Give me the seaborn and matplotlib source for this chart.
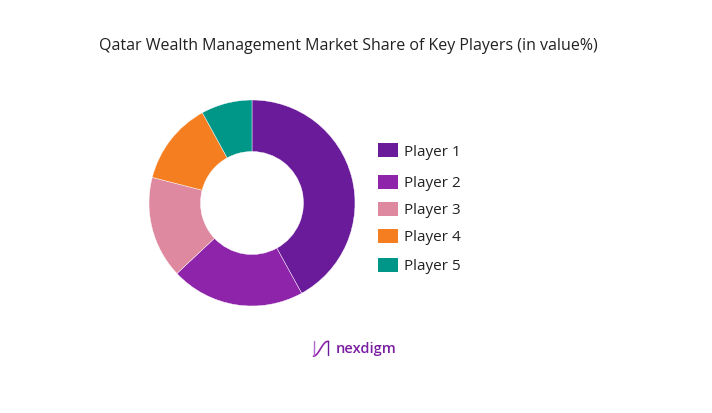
import numpy as np
import matplotlib.pyplot as plt
import seaborn as sns
from matplotlib.patches import Rectangle

# Data
players = ['Player 1', 'Player 2', 'Player 3', 'Player 4', 'Player 5']
shares = [42, 21, 16, 13, 8]
colors = ['#6A1B9A', '#8E24AA', '#DE89A0', '#F57F20', '#009688']

sns.set_theme(style='white')
plt.rcParams['font.family'] = ['Open Sans', 'DejaVu Sans']

W, H = 712, 414
fig = plt.figure(figsize=(W / 100, H / 100), dpi=100)
fig.patch.set_facecolor('white')

# Donut chart
cx, cy, r = 252, 204, 103
ax = fig.add_axes([(cx - r) / W, (H - cy - r) / H, 2 * r / W, 2 * r / H])
ax.pie(shares, colors=sns.color_palette(colors), startangle=90, counterclock=False,
       radius=1, wedgeprops=dict(width=0.5, edgecolor='white', linewidth=0.3))
ax.set_aspect('equal')
ax.set_xlim(-1, 1)
ax.set_ylim(-1, 1)
ax.axis('off')

# Title
fig.text(348 / W, 1 - 46 / H, 'Qatar Wealth Management Market Share of Key Players (in value%)',
         ha='center', va='center', fontsize=11.5, color='#222222')

# Legend drawn manually to keep the uneven spacing
legend_y = [151, 183, 210, 237, 266]
for name, col, y in zip(players, colors, legend_y):
    fig.patches.append(Rectangle((378 / W, 1 - (y + 7) / H), 20 / W, 14 / H,
                                 transform=fig.transFigure, facecolor=col, edgecolor='none'))
    fig.text(404 / W, 1 - (y + 1) / H, name, ha='left', va='center', fontsize=11, color='#222222')

# Logo
lx = np.linspace(0, 1, 50)
ly = 0.5 + 0.45 * np.sin((lx - 0.5) * np.pi) * np.cos(lx * np.pi * 0.2)
lax = fig.add_axes([312 / W, 1 - 358 / H, 18 / W, 18 / H])
lax.plot(lx, ly, color='#8E24AA', lw=1.2)
lax.plot([0.05, 0.05], [0.1, 0.9], color='#B06AD0', lw=1)
lax.plot([0.95, 0.95], [0.1, 0.9], color='#6A1B9A', lw=1)
lax.set_xlim(-0.1, 1.1)
lax.set_ylim(0, 1)
lax.axis('off')
fig.text(336 / W, 1 - 349 / H, 'nexdigm', ha='left', va='center', fontsize=10.5,
         color='#7B1FA2', fontweight='semibold')

plt.savefig('out.png', dpi=100, facecolor='white')
plt.close()
